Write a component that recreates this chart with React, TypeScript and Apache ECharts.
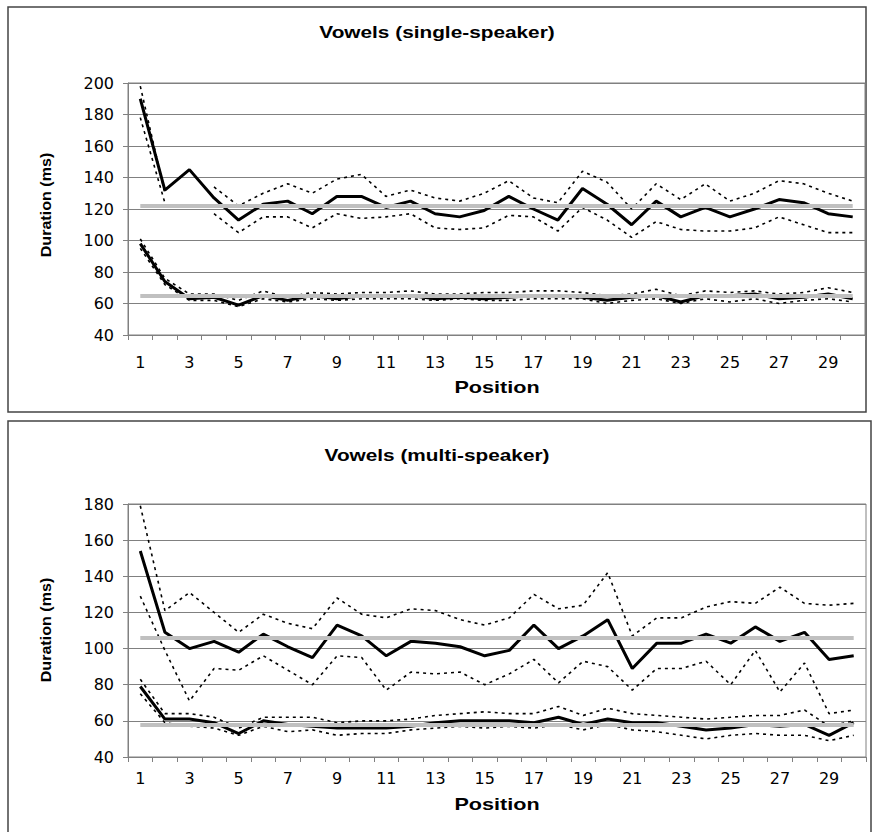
import React, { useEffect, useRef } from "react";
import * as echarts from "echarts";

const positions = ["1","2","3","4","5","6","7","8","9","10","11","12","13","14","15","16","17","18","19","20","21","22","23","24","25","26","27","28","29","30"];

// Single-speaker: long vowels (upper group)
const ssLongMean = [190,132,145,127,113,123,125,117,128,128,121,125,117,115,119,128,120,113,133,123,110,125,115,121,115,120,126,124,117,115];
const ssLongHigh = [198,130,null,134,122,130,136,130,139,142,128,132,127,125,130,138,127,124,144,137,120,136,126,136,125,130,138,136,130,125];
const ssLongLow = [178,124,null,117,105,115,115,108,117,114,115,117,108,107,108,116,115,106,121,113,102,112,107,106,106,108,115,110,105,105];
const ssLongAvg = 122;
// Single-speaker: short vowels (lower group)
const ssShortMean = [98,74,63,64,59,65,62,65,63,65,65,65,63,64,63,64,65,65,64,62,64,65,61,65,65,66,63,64,66,63];
const ssShortHigh = [101,76,66,66,62,68,64,67,66,67,67,68,66,66,67,67,68,68,67,65,66,69,65,68,67,68,66,67,70,67];
const ssShortLow = [95,72,62,62,58,63,61,63,62,63,63,63,62,63,62,62,63,63,63,60,62,63,60,63,61,63,60,62,63,61];
const ssShortAvg = 65;

// Multi-speaker: long vowels
const msLongMean = [154,109,100,104,98,108,101,95,113,107,96,104,103,101,96,99,113,100,107,116,89,103,103,108,103,112,104,109,94,96];
const msLongHigh = [179,121,131,120,109,119,114,111,128,119,117,122,121,116,113,117,130,122,124,142,107,117,117,123,126,125,134,125,124,125];
const msLongLow = [129,99,71,89,88,96,88,80,96,95,77,87,86,87,80,86,94,81,93,90,77,89,89,93,80,99,76,92,64,66];
const msLongAvg = 106;
// Multi-speaker: short vowels
const msShortMean = [79,61,61,59,53,60,58,57,56,56,56,57,59,60,60,60,59,62,58,61,59,59,57,55,56,58,57,58,52,59];
const msShortHigh = [83,64,64,62,56,62,62,62,59,60,60,61,63,64,65,64,64,68,63,67,64,63,62,61,62,63,63,66,57,60];
const msShortLow = [75,59,57,56,52,57,54,55,52,53,53,55,56,57,56,57,56,58,55,58,55,54,52,50,52,53,52,52,49,52];
const msShortAvg = 58;

const titles = ["Vowels (single-speaker)", "Vowels (multi-speaker)"];
const yName = "Duration (ms)";
const xName = "Position";

const FONT = "'Liberation Sans', Arial, sans-serif";
const TICKFONT = "'DejaVu Sans', 'Liberation Sans', sans-serif";

function groupSeries(gi: number, mean: any[], high: any[], low: any[], avg: number) {
  const base = { type: "line", xAxisIndex: gi, yAxisIndex: gi, showSymbol: false, symbol: "none", silent: true, connectNulls: false };
  return [
    {
      ...base,
      data: [],
      z: 1,
      markLine: {
        silent: true,
        symbol: ["none", "none"],
        label: { show: false },
        lineStyle: { color: "#c0c0c0", width: 4, type: "solid" },
        data: [[{ coord: [positions[0], avg] }, { coord: [positions[positions.length - 1], avg] }]],
      },
    },
    { ...base, z: 3, data: high, lineStyle: { color: "#000", width: 1.6, type: [3, 4] } },
    { ...base, z: 3, data: low, lineStyle: { color: "#000", width: 1.6, type: [3, 4] } },
    { ...base, z: 4, data: mean, lineStyle: { color: "#000", width: 3, type: "solid" } },
  ];
}

function boldText(text: string, x: number, y: number, size: number, sx: number, rot = 0) {
  return {
    type: "text",
    silent: true,
    x,
    y,
    rotation: rot,
    scaleX: sx,
    scaleY: 1,
    style: { text, fill: "#000", font: `bold ${size}px ${FONT}`, textAlign: "center", textVerticalAlign: "middle" },
  };
}

export default function App() {
  const ref = useRef<HTMLDivElement>(null);
  useEffect(() => {
    if (!ref.current) return;
    const chart = echarts.init(ref.current, null, { renderer: "svg" });
    const gridCommon = { show: true, borderColor: "#808080", borderWidth: 1, backgroundColor: "transparent" };
    const xAxisCommon = (gi: number, labelMargin: number) => ({
      type: "category",
      gridIndex: gi,
      data: positions,
      boundaryGap: true,
      axisLine: { lineStyle: { color: "#808080", width: 1 } },
      axisTick: { show: true, interval: 0, length: 5, inside: false, lineStyle: { color: "#808080" } },
      axisLabel: { interval: 1, margin: labelMargin, fontFamily: TICKFONT, fontSize: 16, color: "#000" },
      splitLine: { show: false },
    });
    const yAxisCommon = (gi: number, max: number) => ({
      type: "value",
      gridIndex: gi,
      min: 40,
      max,
      interval: 20,
      axisLine: { show: true, lineStyle: { color: "#808080", width: 1 } },
      axisTick: { show: true, length: 5, lineStyle: { color: "#808080" } },
      axisLabel: { margin: 14, fontFamily: TICKFONT, fontSize: 16, color: "#000" },
      splitLine: { show: true, lineStyle: { color: "#808080", width: 1 } },
    });
    chart.setOption({
      animation: false,
      backgroundColor: "#fff",
      graphic: [
        { type: "rect", silent: true, z: -1, shape: { x: 8, y: 7, width: 858, height: 405 }, style: { fill: "none", stroke: "#444", lineWidth: 1.5 } },
        { type: "rect", silent: true, z: -1, shape: { x: 8, y: 421, width: 863, height: 430 }, style: { fill: "none", stroke: "#444", lineWidth: 1.5 } },
        boldText(titles[0], 437, 32, 16, 1.3),
        boldText(titles[1], 437, 455, 16, 1.3),
        boldText(xName, 497, 388, 16, 1.35),
        boldText(xName, 497, 805, 16, 1.35),
        boldText(yName, 46, 205, 14, 1.15, Math.PI / 2),
        boldText(yName, 46, 630, 14, 1.15, Math.PI / 2),
      ],
      grid: [
        { ...gridCommon, left: 128, top: 83, width: 737, height: 252 },
        { ...gridCommon, left: 128, top: 504, width: 738, height: 253 },
      ],
      xAxis: [xAxisCommon(0, 19), xAxisCommon(1, 13)],
      yAxis: [yAxisCommon(0, 200), yAxisCommon(1, 180)],
      series: [
        ...groupSeries(0, ssLongMean, ssLongHigh, ssLongLow, ssLongAvg),
        ...groupSeries(0, ssShortMean, ssShortHigh, ssShortLow, ssShortAvg),
        ...groupSeries(1, msLongMean, msLongHigh, msLongLow, msLongAvg),
        ...groupSeries(1, msShortMean, msShortHigh, msShortLow, msShortAvg),
      ],
    });
    return () => chart.dispose();
  }, []);
  return <div ref={ref} style={{ position: "fixed", left: 0, top: 0, width: 873, height: 832, background: "#fff" }} />;
}
